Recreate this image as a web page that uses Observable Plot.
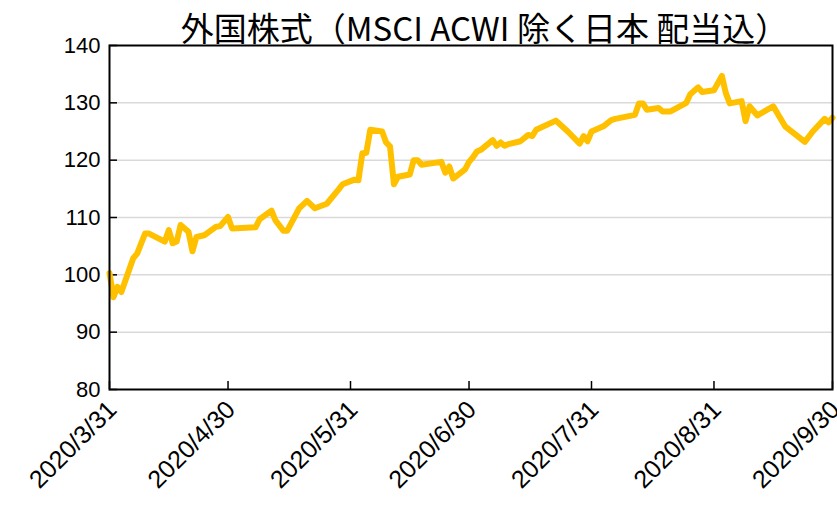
<!DOCTYPE html>
<html><head><meta charset="utf-8">
<script src="https://cdn.jsdelivr.net/npm/d3@7"></script>
<script src="https://cdn.jsdelivr.net/npm/@observablehq/plot@0.6"></script>
<style>
body{margin:0;background:#fff;position:relative;}
#title{position:absolute;left:0;top:0;width:837px;height:54px;box-sizing:border-box;padding-left:132px;text-align:center;font-family:"Noto Sans CJK JP";font-size:33px;line-height:54px;white-space:nowrap;color:#000;z-index:2;}
</style></head><body>
<div id="title">外国株式（MSCI ACWI 除く日本 配当込）</div>
<div id="chart"></div>
<script>
const dates = [
"2020-03-31","2020-04-01","2020-04-02","2020-04-03","2020-04-06","2020-04-07","2020-04-09","2020-04-10",
"2020-04-14","2020-04-15","2020-04-16","2020-04-17","2020-04-18","2020-04-20","2020-04-21","2020-04-22",
"2020-04-24","2020-04-27","2020-04-28","2020-04-30","2020-05-01","2020-05-07","2020-05-08","2020-05-11",
"2020-05-12","2020-05-14","2020-05-15","2020-05-18","2020-05-20","2020-05-22","2020-05-25","2020-05-28",
"2020-05-29","2020-06-01","2020-06-02","2020-06-03","2020-06-04","2020-06-05","2020-06-08","2020-06-09",
"2020-06-10","2020-06-11","2020-06-12","2020-06-15","2020-06-16","2020-06-17","2020-06-18","2020-06-23",
"2020-06-24","2020-06-25","2020-06-26","2020-06-29","2020-06-30","2020-07-01","2020-07-02","2020-07-03",
"2020-07-06","2020-07-07","2020-07-08","2020-07-09","2020-07-10","2020-07-13","2020-07-15","2020-07-16",
"2020-07-17","2020-07-22","2020-07-25","2020-07-28","2020-07-29","2020-07-30","2020-07-31","2020-08-03",
"2020-08-05","2020-08-06","2020-08-11","2020-08-12","2020-08-13","2020-08-14","2020-08-17","2020-08-18",
"2020-08-20","2020-08-24","2020-08-25","2020-08-27","2020-08-28","2020-08-31","2020-09-02","2020-09-03",
"2020-09-04","2020-09-07","2020-09-08","2020-09-09","2020-09-11","2020-09-15","2020-09-18","2020-09-23",
"2020-09-25","2020-09-28","2020-09-29","2020-09-30"
];
const values = [
100.3,96.1,97.9,97.0,102.9,103.7,107.2,107.2,
105.8,107.8,105.5,105.8,108.7,107.5,104.1,106.6,
106.9,108.4,108.5,110.1,108.1,108.3,109.7,111.2,
109.5,107.7,107.7,111.6,112.9,111.6,112.4,114.9,
115.8,116.6,116.5,121.2,121.3,125.3,125.0,123.1,
122.4,115.8,117.1,117.5,120.0,120.0,119.2,119.7,
117.8,118.9,116.8,118.4,119.7,120.5,121.5,121.8,
123.5,122.5,123.1,122.5,122.8,123.3,124.4,124.2,
125.3,126.9,125.0,122.9,124.2,123.3,125.0,125.9,
127.0,127.2,127.9,129.9,129.9,128.8,129.1,128.5,
128.5,130.0,131.5,132.7,131.9,132.2,134.7,131.7,
129.9,130.3,126.8,129.4,127.8,129.4,125.9,123.2,
125.0,127.2,126.6,127.4
];
const yTicks = [80, 90, 100, 110, 120, 130, 140];
const yGrid = [90, 100, 110, 120, 130];
const xTicks = ["2020-03-31","2020-04-30","2020-05-31","2020-06-30","2020-07-31","2020-08-31","2020-09-30"];

const data = dates.map((d, i) => ({date: new Date(d), value: values[i]}));
const xTickDates = xTicks.map(d => new Date(d));
const fmt = d => `${d.getUTCFullYear()}/${d.getUTCMonth() + 1}/${d.getUTCDate()}`;
const font = "Liberation Sans";

const chart = Plot.plot({
  width: 837,
  height: 526,
  marginTop: 45,
  marginLeft: 109,
  marginRight: 5,
  marginBottom: 137,
  style: {fontFamily: font, fontSize: "22px", color: "#000", background: "#fff"},
  x: {type: "utc", domain: [xTickDates[0], xTickDates[xTickDates.length - 1]]},
  y: {domain: [80, 140]},
  marks: [
    Plot.gridY(yGrid, {stroke: "#d9d9d9", strokeOpacity: 1, strokeWidth: 1.5}),
    Plot.axisY(yTicks, {tickSize: 0, tickPadding: 9, fontSize: 22, fontFamily: font, label: null}),
    Plot.axisY(yTicks, {tickSize: 8, dx: 8, text: null, label: null, stroke: "#000", strokeWidth: 1.5}),
    Plot.axisX(xTickDates, {tickSize: 0, tickPadding: 16, dx: 3, tickRotate: -45, tickFormat: fmt, fontSize: 25, fontFamily: font, label: null}),
    Plot.axisX(xTickDates, {tickSize: 8, dy: -8, text: null, label: null, stroke: "#000", strokeWidth: 1.5}),
    Plot.line(data, {x: "date", y: "value", stroke: "#FFC000", strokeWidth: 6, strokeLinejoin: "round", strokeLinecap: "round"}),
    Plot.frame({stroke: "#000", strokeWidth: 2})
  ]
});
document.getElementById("chart").appendChild(chart);
</script>
</body></html>
